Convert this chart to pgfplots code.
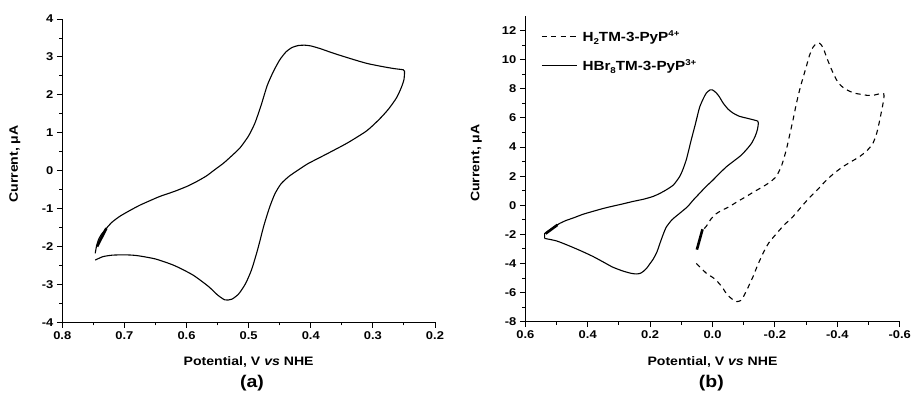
\documentclass[border=0pt]{standalone}
\usepackage{fontspec}
\setmainfont{Liberation Sans}[FakeStretch=1.15]
\usepackage{pgfplots}
\pgfplotsset{compat=1.18}
\newcommand{\sub}[1]{\raisebox{-3.2bp}{\fontsize{8.5}{8.5}\selectfont #1}}
\newcommand{\sups}[1]{\raisebox{4.8bp}{\fontsize{8.5}{8.5}\selectfont #1}}
\pgfplotsset{cvstyle/.style={
 scale only axis,
 axis lines*=left,
 x dir=reverse,
 tick align=outside,
 major tick length=5.5bp, minor tick length=3bp,
 minor x tick num=1, minor y tick num=1,
 every tick/.style={black, line width=0.9bp},
 axis line style={line width=0.9bp},
 tick label style={font=\fontsize{11.3}{13}\selectfont\bfseries},
 label style={font=\fontsize{12.3}{14}\selectfont\bfseries},
 /pgf/number format/assume math mode=true,
 clip=false,
}}
\begin{document}
\begin{tikzpicture}
\begin{axis}[cvstyle,
 at={(62.3bp,80.7bp)}, anchor=south west,
 width=372.7bp, height=303.3bp,
 xmin=0.2, xmax=0.8, ymin=-4, ymax=4,
 xtick={0.2,0.3,0.4,0.5,0.6,0.7,0.8},
 ytick={-4,-3,-2,-1,0,1,2,3,4},
 xticklabel style={/pgf/number format/.cd,fixed,fixed zerofill,precision=1},
 xlabel={Potential, V \textit{vs} NHE},
 ylabel={Current, μA},
 x label style={at={(axis description cs:0.5,-0.131)}, anchor=center},
 y label style={at={(axis description cs:-0.127,0.522)}, anchor=center, rotate=0},
]
\addplot[black, line width=1.1bp, smooth, tension=0.4] coordinates {
(0.747,-2.36) (0.735,-2.27) (0.72,-2.23) (0.70,-2.22) (0.68,-2.24) (0.65,-2.33)
(0.62,-2.50) (0.59,-2.75) (0.565,-3.05) (0.55,-3.28) (0.538,-3.41) (0.527,-3.39)
(0.516,-3.25) (0.505,-2.98) (0.495,-2.60) (0.485,-2.05) (0.476,-1.48) (0.467,-1.0)
(0.458,-0.62) (0.448,-0.35) (0.435,-0.15) (0.42,0.02) (0.405,0.18) (0.385,0.35)
(0.365,0.52) (0.34,0.74) (0.31,1.05) (0.29,1.35) (0.275,1.62) (0.262,1.92)
(0.254,2.2) (0.25,2.4) (0.249,2.62)
(0.251,2.66) (0.265,2.69) (0.283,2.74) (0.31,2.83) (0.337,2.96) (0.364,3.10)
(0.385,3.22) (0.40,3.29) (0.41,3.31) (0.42,3.30) (0.43,3.25) (0.44,3.13)
(0.45,2.92) (0.46,2.62) (0.47,2.25) (0.48,1.72) (0.49,1.25) (0.50,0.92)
(0.514,0.60) (0.53,0.35) (0.541,0.19) (0.555,0.02) (0.568,-0.14) (0.585,-0.30)
(0.60,-0.42) (0.62,-0.55) (0.643,-0.68) (0.66,-0.80) (0.675,-0.91) (0.69,-1.04)
(0.707,-1.20) (0.72,-1.36) (0.729,-1.52) (0.737,-1.68) (0.742,-1.83) (0.745,-2.0)
(0.747,-2.18)
};
\addplot[black, line width=2.6bp] coordinates {(0.744,-2.0) (0.729,-1.52)};
\node[font=\fontsize{17}{19}\selectfont\bfseries] at (axis description cs:0.509,-0.2) {(a)};
\end{axis}
\begin{axis}[cvstyle,
 at={(525.3bp,81.3bp)}, anchor=south west,
 width=374.4bp, height=305.7bp,
 xmin=-0.6, xmax=0.6, ymin=-8, ymax=13,
 xtick={-0.6,-0.4,-0.2,0,0.2,0.4,0.6},
 ytick={-8,-6,-4,-2,0,2,4,6,8,10,12},
 xticklabel style={/pgf/number format/.cd,fixed,fixed zerofill,precision=1},
 xlabel={Potential, V \textit{vs} NHE},
 ylabel={Current, μA},
 x label style={at={(axis description cs:0.5,-0.131)}, anchor=center},
 y label style={at={(axis description cs:-0.131,0.519)}, anchor=center, rotate=0},
 legend style={at={(axis description cs:0.0345,0.966)}, anchor=north west, draw=none, fill=none,
   font=\fontsize{13.3}{15}\selectfont\bfseries, row sep=13bp,
   /tikz/every odd column/.append style={column sep=3bp}},
 legend cell align=left,
 every legend image post/.append style={xscale=2.06},
]
\addplot[black, line width=1.1bp, dash pattern=on 5bp off 4.3bp, smooth, tension=0.4] coordinates {
(0.052,-4.0) (0.035,-4.35) (0.020,-4.67) (0.0,-4.95) (-0.012,-5.15) (-0.03,-5.6)
(-0.044,-6.05) (-0.06,-6.4) (-0.076,-6.62) (-0.09,-6.55) (-0.1,-6.25) (-0.115,-5.6)
(-0.130,-4.90) (-0.145,-4.1) (-0.162,-3.30) (-0.18,-2.6) (-0.205,-1.95) (-0.23,-1.35)
(-0.258,-0.78) (-0.285,-0.1) (-0.312,0.55) (-0.34,1.15) (-0.365,1.72) (-0.39,2.2)
(-0.418,2.65) (-0.445,3.0) (-0.472,3.35) (-0.495,3.75) (-0.514,4.25) (-0.527,5.0)
(-0.536,5.85) (-0.544,6.7) (-0.549,7.3) (-0.549,7.65)
(-0.535,7.65) (-0.514,7.55) (-0.495,7.55) (-0.482,7.6) (-0.455,7.7) (-0.429,7.94)
(-0.41,8.25) (-0.397,8.63) (-0.38,9.4) (-0.365,10.2) (-0.355,10.8) (-0.344,11.12)
(-0.333,11.1) (-0.322,10.85) (-0.311,10.3) (-0.301,9.55) (-0.29,8.75) (-0.279,7.90)
(-0.268,6.9) (-0.258,5.85) (-0.247,4.8) (-0.237,3.85) (-0.222,2.75) (-0.205,2.0)
(-0.185,1.6) (-0.162,1.28) (-0.135,0.95) (-0.108,0.60) (-0.08,0.25) (-0.055,-0.08)
(-0.03,-0.35) (-0.012,-0.58) (0.005,-0.95) (0.020,-1.45) (0.031,-1.70)
};
\addlegendentry{H\sub{2}TM-3-PyP\sups{4+}}
\addplot[black, line width=1.1bp, smooth, tension=0.4] coordinates {
(0.538,-2.28) (0.50,-2.45) (0.458,-2.80) (0.42,-3.15) (0.383,-3.52) (0.35,-3.90)
(0.32,-4.25) (0.287,-4.52) (0.26,-4.68) (0.244,-4.72) (0.232,-4.68) (0.222,-4.55)
(0.21,-4.3) (0.20,-4.0) (0.19,-3.70) (0.178,-3.2) (0.169,-2.65) (0.158,-2.0)
(0.148,-1.50) (0.13,-1.0) (0.105,-0.55) (0.08,-0.10) (0.062,0.35) (0.04,0.85)
(0.020,1.30) (0.0,1.70) (-0.023,2.20) (-0.045,2.65) (-0.066,3.0) (-0.09,3.40)
(-0.108,3.80) (-0.125,4.25) (-0.137,4.75) (-0.144,5.2) (-0.147,5.65)
(-0.145,5.78) (-0.125,5.90) (-0.108,5.99) (-0.085,6.12) (-0.066,6.33) (-0.05,6.6)
(-0.034,7.02) (-0.022,7.45) (-0.012,7.72) (0.0,7.92) (0.008,7.92) (0.02,7.70)
(0.03,7.3) (0.041,6.75) (0.05,6.0) (0.057,5.40) (0.068,4.50) (0.076,3.80)
(0.084,3.12) (0.095,2.45) (0.105,1.98) (0.125,1.40) (0.148,1.06) (0.17,0.80)
(0.191,0.60) (0.22,0.42) (0.255,0.26) (0.29,0.08) (0.319,-0.06) (0.35,-0.22)
(0.383,-0.42) (0.415,-0.62) (0.447,-0.88) (0.47,-1.05) (0.49,-1.25) (0.505,-1.45)
(0.522,-1.70) (0.532,-1.85) (0.538,-1.95) (0.538,-2.28)
};
\addlegendentry{HBr\sub{8}TM-3-PyP\sups{3+}}
\addplot[black, line width=2.6bp, forget plot] coordinates {(0.535,-1.95) (0.497,-1.35)};
\addplot[black, line width=2.6bp, forget plot] coordinates {(0.050,-3.05) (0.032,-1.65)};
\node[font=\fontsize{17}{19}\selectfont\bfseries] at (axis description cs:0.497,-0.2015) {(b)};
\end{axis}
\pgfresetboundingbox
\path[use as bounding box] (0,0) rectangle (913bp,403bp);
\end{tikzpicture}
\end{document}
